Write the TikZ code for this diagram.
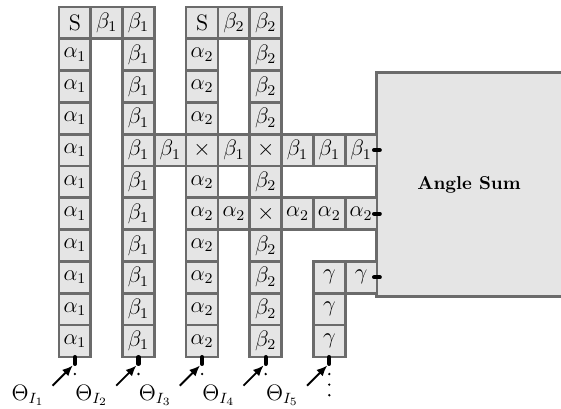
\documentclass[tikz,border=0pt]{standalone}
\usepackage{amsmath,amssymb}
\usepackage{tikz}
\usetikzlibrary{arrows.meta,calc}
\definecolor{cellfill}{gray}{0.9}
\definecolor{cellline}{gray}{0.42}
\newcommand{\gridcell}[3]{\node[cell] (c#1-#2) at (#1+0.5,-#2-0.5) {#3};}

\begin{document}
\begin{tikzpicture}[
  x=6mm,y=6mm,
  every node/.style={font=\large},
  cell/.style={draw=cellline,fill=cellfill,line width=1.4pt,minimum size=6mm,inner sep=0pt},
  pin/.style={line width=2.2pt,line cap=round},
  arr/.style={-{Latex[length=2mm,width=1.7mm]},line width=1pt},
  dots/.style={line width=1.4pt,line cap=round,dash pattern=on 0pt off 2mm},
  lbl/.style={anchor=base west,inner sep=0pt}
]
\useasboundingbox (-1.855,0.22) rectangle (15.786,-12.64);
% angle sum block, open to the right
\node[fill=cellfill,minimum width=34.72mm,minimum height=42.12mm,inner sep=0pt,font=\bfseries] (sum) at (12.893,-5.58) {Angle Sum};
\draw[cellline,line width=1.4pt] (sum.north east) -- (sum.north west) -- (sum.south west) -- (sum.south east);
% columns
\gridcell{0}{0}{S}
\foreach \r in {1,...,10} {\gridcell{0}{\r}{$\alpha_1$}}
\gridcell{1}{0}{$\beta_1$}
\foreach \r in {0,...,10} {\gridcell{2}{\r}{$\beta_1$}}
\gridcell{4}{0}{S}
\foreach \r in {1,2,3,5,6,7,8,9,10} {\gridcell{4}{\r}{$\alpha_2$}}
\gridcell{4}{4}{$\times$}
\gridcell{5}{0}{$\beta_2$}
\foreach \r in {0,1,2,3,5,7,8,9,10} {\gridcell{6}{\r}{$\beta_2$}}
\gridcell{6}{4}{$\times$}
\gridcell{6}{6}{$\times$}
% rows into the block
\foreach \c in {3,5,7,8,9} {\gridcell{\c}{4}{$\beta_1$}}
\foreach \c in {5,7,8,9} {\gridcell{\c}{6}{$\alpha_2$}}
\foreach \r in {8,9,10} {\gridcell{8}{\r}{$\gamma$}}
\gridcell{9}{8}{$\gamma$}
\foreach \r in {4,6,8} {\draw[pin] ([xshift=-0.8mm]c9-\r.east) -- ([xshift=0.6mm]c9-\r.east -| sum.west);}
% inputs at the bottom
\foreach \c in {0,2,4,6,8} {
  \draw[pin] ([yshift=0.2mm]c\c-10.south) -- ([yshift=-1.1mm]c\c-10.south);
  \coordinate (in\c) at ($(c\c-10.south)+(-4.2mm,-5.2mm)$);
  \draw[arr] (in\c) -- ([xshift=-0.4mm,yshift=-1.4mm]c\c-10.south);
}
\node[lbl] (th1) at (-1.5,-12.36) {$\Theta_{I_1}$};
\foreach \k/\c in {2/0,3/2,4/4,5/6} {
  \node[lbl] (th\k) at (\c+0.5,-12.36) {$\Theta_{I_\k}$};
  \draw[dots] ([yshift=-3mm]c\c-10.south) -- (c\c-10.south |- th\k.north);
}
\coordinate (e8) at ($(c8-10.south)+(0,-7.2mm)$);
\draw[dots] ([yshift=-3mm]c8-10.south) -- (e8);
\end{tikzpicture}
\end{document}
